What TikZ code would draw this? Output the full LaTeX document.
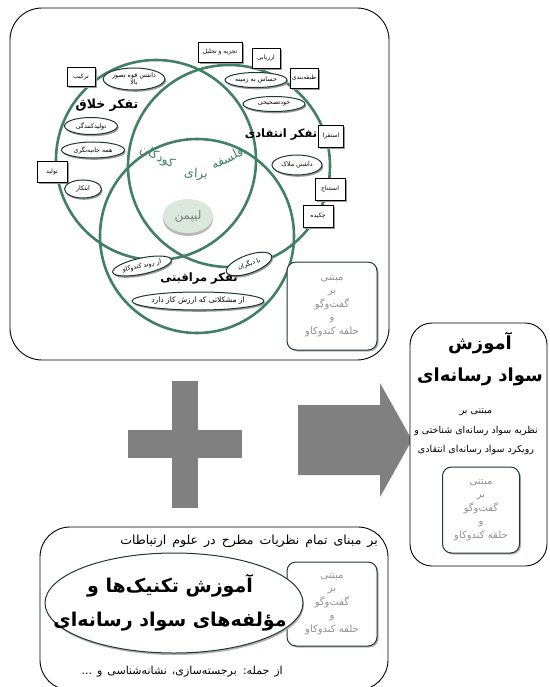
\documentclass[tikz,border=0pt]{standalone}
\usepackage{fontspec}
\usetikzlibrary{shapes.geometric,shadows}
\newfontfamily\fafont[Script=Arabic]{DejaVu Sans}
\TeXXeTstate=1
\newcommand{\fatext}[1]{\beginR #1\endR}
\definecolor{vgreen}{RGB}{66,128,100}
\definecolor{edark}{RGB}{30,55,55}
\definecolor{plusgray}{RGB}{128,128,128}
\definecolor{lipfill}{RGB}{218,232,222}
\definecolor{ghost}{RGB}{145,145,145}
\begin{document}
\begin{tikzpicture}[x=1pt,y=-1pt,
  vcirc/.style={circle, draw=vgreen, line width=2.6pt, minimum size=#1, inner sep=0pt},
  sbox/.style={draw=black, line width=0.7pt, fill=white, inner sep=1pt,
     font=\fafont\fontsize{6}{6.5}\selectfont,
     drop shadow={shadow xshift=1.8pt,shadow yshift=-1.8pt,fill=gray!80,opacity=1}},
  sell/.style={ellipse, draw=edark, line width=1pt, fill=white, inner sep=0pt,
     font=\fafont\fontsize{6.3}{7}\selectfont, align=center,
     drop shadow={shadow xshift=1.2pt,shadow yshift=-1.8pt,fill=gray!80,opacity=1}},
  think/.style={font=\fafont\bfseries\fontsize{11.5}{14}\selectfont, inner sep=0pt},
  kid/.style={font=\fafont\fontsize{12.5}{14}\selectfont, text=vgreen, inner sep=0pt},
  mbox/.style={draw=edark, line width=1pt, fill=white, rounded corners=9pt, align=center,
     text=ghost, font=\fafont\fontsize{10}{13.5}\selectfont,
     drop shadow={shadow xshift=1.5pt,shadow yshift=-1.5pt,fill=gray!60,opacity=1}},
  frame/.style={draw=black, line width=0.9pt},
  biggray/.style={fill=plusgray, draw=none}
]
\useasboundingbox (0,0) rectangle (549,687);

% ---------- top frame ----------
\draw[frame, rounded corners=32pt] (10,8) rectangle (389,360);

% ---------- Venn circles ----------
\node[vcirc=200pt] (c1) at (156,160) {};
\node[vcirc=202pt] (c2) at (229,166) {};
\node[vcirc=194pt] (c3) at (197,236) {};

% center text
\node[kid, rotate=-25] (k1) at (157,157) {\fatext{کودکان}};
\node[kid, rotate=-4] (k2) at (196,174) {\fatext{برای}};
\node[kid, rotate=27] (k3) at (227,158) {\fatext{فلسفه}};

\node[ellipse, fill=lipfill, minimum width=50pt, minimum height=34pt, inner sep=0pt,
      text=gray, font=\fafont\fontsize{12}{14}\selectfont,
      drop shadow={shadow xshift=0pt,shadow yshift=-3pt,fill=gray!55,opacity=1}] (lip) at (188,216) {\fatext{لیپمن}};

% creative thinking
\node[think, font=\fafont\bfseries\fontsize{12.5}{14}\selectfont] (t1) at (107,105) {\fatext{تفکر خلاق}};
\node[sbox, minimum width=28pt, minimum height=19pt] (b1) at (81,77) {\fatext{ترکیب}};
\node[sell, minimum width=52pt, minimum height=22pt] (e1) at (134,79) {\fatext{داشتن قوه تصور}\\\fatext{بالا}};
\node[sell, minimum width=53pt, minimum height=17pt] (e2) at (91,126) {\fatext{تولیدکنندگی}};
\node[sell, minimum width=63pt, minimum height=16pt] (e3) at (93,150) {\fatext{همه جانبه‌نگری}};
\node[sbox, minimum width=30pt, minimum height=21pt] (b2) at (52,172) {\fatext{تولید}};
\node[sell, minimum width=37pt, minimum height=18pt] (e4) at (83,189) {\fatext{ابتکار}};

% critical thinking
\node[think] (t2) at (281,135) {\fatext{تفکر انتقادی}};
\node[sbox, minimum width=44pt, minimum height=20pt] (b3) at (220,52) {\fatext{تجزیه و تحلیل}};
\node[sbox, minimum width=28pt, minimum height=20pt] (b4) at (266,58) {\fatext{ارزیابی}};
\node[sbox, minimum width=28pt, minimum height=20pt] (b5) at (304,78) {\fatext{طبقه‌بندی}};
\node[sell, minimum width=62pt, minimum height=15pt] (e5) at (256,80) {\fatext{حساس به زمینه}};
\node[sell, minimum width=62pt, minimum height=15pt] (e6) at (274,104) {\fatext{خودتصحیحی}};
\node[sbox, minimum width=25pt, minimum height=22pt] (b6) at (331,136) {\fatext{استقرا}};
\node[sell, minimum width=50pt, minimum height=20pt] (e7) at (297,165) {\fatext{داشتن ملاک}};
\node[sbox, minimum width=30pt, minimum height=22pt] (b7) at (330,189) {\fatext{استنتاج}};
\node[sbox, minimum width=30pt, minimum height=22pt] (b8) at (318,216) {\fatext{چکیده}};

% caring thinking
\node[sell, minimum width=60pt, minimum height=16pt, rotate=12] (e8) at (142,266) {\fatext{از روند کندوکاو}};
\node[sell, minimum width=48pt, minimum height=18pt, rotate=20] (e9) at (249,264) {\fatext{با دیگران}};
\node[think] (t3) at (199,279) {\fatext{تفکر مراقبتی}};
\node[sell, minimum width=110pt, minimum height=18pt, font=\fafont\fontsize{7.5}{8}\selectfont] (e10) at (198,301) {\fatext{از مشکلاتی که ارزش کار دارد}};

\node[mbox, minimum width=90pt, minimum height=88pt] (m1) at (332,306)
  {\fatext{مبتنی}\\\fatext{بر}\\\fatext{گفت‌وگو}\\\fatext{و}\\\fatext{حلقه کندوکاو}};

% ---------- plus ----------
\path[biggray] (128,430) rectangle (242,458);
\path[biggray] (172,381) rectangle (198,508);

% ---------- arrow ----------
\path[biggray] (298,405) -- (380,405) -- (380,383) -- (412,440) -- (380,497) -- (380,475) -- (298,475) -- cycle;

% ---------- right frame ----------
\draw[frame, fill=white, rounded corners=22pt] (410,323) rectangle (547,566);
\node[font=\fafont\bfseries\fontsize{18}{32}\selectfont, align=center, inner sep=0pt] (r1) at (480,359)
  {\fatext{آموزش}\\\fatext{سواد رسانه‌ای}};
\node[font=\fafont\fontsize{9.5}{19.5}\selectfont, align=center, inner sep=0pt] (r2) at (476,432)
  {\fatext{مبتنی بر}\\\fatext{نظریه سواد رسانه‌ای شناختی و}\\\fatext{رویکرد سواد رسانه‌ای انتقادی}};
\node[mbox, minimum width=77pt, minimum height=86pt] (m2) at (481,510)
  {\fatext{مبتنی}\\\fatext{بر}\\\fatext{گفت‌وگو}\\\fatext{و}\\\fatext{حلقه کندوکاو}};

% ---------- bottom frame ----------
\draw[frame, rounded corners=30pt] (40,527) rectangle (388,690);
\node[font=\fafont\fontsize{12.5}{14}\selectfont, anchor=east, inner sep=0pt] (bt) at (378,541)
  {\spaceskip=6pt plus 1pt\fatext{بر مبنای تمام نظریات مطرح در علوم ارتباطات}};
\node[mbox, minimum width=90pt, minimum height=84pt] (m3) at (332,604)
  {\fatext{مبتنی}\\\fatext{بر}\\\fatext{گفت‌وگو}\\\fatext{و}\\\fatext{حلقه کندوکاو}};
\node[ellipse, draw=edark, line width=1pt, fill=white, minimum width=258pt, minimum height=100pt,
      inner sep=0pt,
      drop shadow={shadow xshift=1pt,shadow yshift=-2pt,fill=gray!60,opacity=1}] (be) at (174,603) {};
\node[font=\fafont\bfseries\fontsize{19}{34}\selectfont, align=center, inner sep=0pt] (bet) at (170,603)
  {\fatext{آموزش تکنیک‌ها و}\\\fatext{مؤلفه‌های سواد رسانه‌ای}};
\node[font=\fafont\fontsize{11}{12}\selectfont, anchor=east, inner sep=0pt] (bb) at (283,672)
  {\spaceskip=5pt plus 1pt\fatext{از جمله: برجسته‌سازی، نشانه‌شناسی و ...}};
\end{tikzpicture}
\end{document}
